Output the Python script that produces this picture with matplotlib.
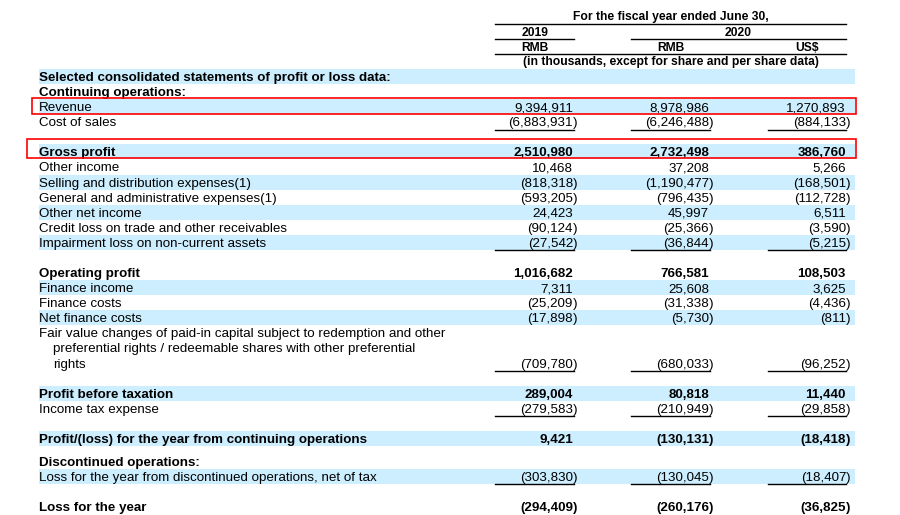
from matplotlib import pyplot as plt
from matplotlib.patches import Rectangle

plt.rcParams['font.family'] = ['Liberation Sans', 'DejaVu Sans']

# rows of the table (None = no value in that column)
row_labels = [
    "Selected consolidated statements of profit or loss data:",
    "Continuing operations:",
    "Revenue",
    "Cost of sales",
    "Gross profit",
    "Other income",
    "Selling and distribution expenses(1)",
    "General and administrative expenses(1)",
    "Other net income",
    "Credit loss on trade and other receivables",
    "Impairment loss on non-current assets",
    "Operating profit",
    "Finance income",
    "Finance costs",
    "Net finance costs",
    "Fair value changes of paid-in capital subject to redemption and other\n"
    "preferential rights / redeemable shares with other preferential\n"
    "rights",
    "Profit before taxation",
    "Income tax expense",
    "Profit/(loss) for the year from continuing operations",
    "Discontinued operations:",
    "Loss for the year from discontinued operations, net of tax",
    "Loss for the year",
]
rmb_2019 = [None, None, 9394911, -6883931, 2510980, 10468, -818318, -593205,
            24423, -90124, -27542, 1016682, 7311, -25209, -17898, -709780,
            289004, -279583, 9421, None, -303830, -294409]
rmb_2020 = [None, None, 8978986, -6246488, 2732498, 37208, -1190477, -796435,
            45997, -25366, -36844, 766581, 25608, -31338, -5730, -680033,
            80818, -210949, -130131, None, -130045, -260176]
usd_2020 = [None, None, 1270893, -884133, 386760, 5266, -168501, -112728,
            6511, -3590, -5215, 108503, 3625, -4436, -811, -96252,
            11440, -29858, -18418, None, -18407, -36825]

header_title = "For the fiscal year ended June 30,"
years = ["2019", "2020"]
currencies = ["RMB", "RMB", "US$"]
unit_note = "(in thousands, except for share and per share data)"

# layout / styles
slots = [0, 1, 2, 3, 5, 6, 7, 8, 9, 10, 11, 13, 14, 15, 16, 17, 21, 22, 24, 25.5, 26.5, 28.5]
bold_rows = {0, 1, 4, 11, 16, 18, 19, 21}
bold_values = {4, 11, 16, 18, 21}
underline_rows = {3, 10, 15, 17, 20}
boxed_rows = {2: (32, 98, 114), 4: (27, 139, 158)}
shade = '#cceeff'
step = 15.08
top = 76
fs = 9.6
hfs = 8.7

col_right = [573, 709, 846]
col_span = [(495, 574), (631, 710), (768, 846)]


def fmt(v):
    if v < 0:
        return "(" + format(-v, ",")
    return format(v, ",")


fig = plt.figure(figsize=(9, 5.15), dpi=100)
ax = fig.add_axes([0, 0, 1, 1])
ax.set_xlim(0, 900)
ax.set_ylim(515, 0)
ax.axis('off')

# header
ax.text(671, 20, header_title, ha='center', va='baseline', fontsize=hfs, fontweight='bold')
ax.plot([495, 846], [24, 24], color='black', lw=1)
ax.text(535, 36, years[0], ha='center', va='baseline', fontsize=hfs, fontweight='bold')
ax.text(738, 36, years[1], ha='center', va='baseline', fontsize=hfs, fontweight='bold')
ax.plot([495, 574], [39, 39], color='black', lw=1)
ax.plot([631, 846], [39, 39], color='black', lw=1)
for cx, cur in zip([535, 671, 807], currencies):
    ax.text(cx, 51, cur, ha='center', va='baseline', fontsize=hfs, fontweight='bold')
ax.plot([495, 846], [54, 54], color='black', lw=1)
ax.text(671, 65, unit_note, ha='center', va='baseline', fontsize=hfs, fontweight='bold')

for i, label in enumerate(row_labels):
    y = top + slots[i] * step
    lines = label.split("\n")
    weight = 'bold' if i in bold_rows else 'normal'
    if i % 2 == 0:
        ax.add_patch(Rectangle((39, y - 7), 816, 15, color=shade, lw=0, zorder=0))
    for k, line in enumerate(lines):
        ax.text(39 if k == 0 else 53, y + k * step + 5, line, ha='left', va='baseline',
                fontsize=fs, fontweight=weight)
    yv = y + (len(lines) - 1) * step
    vweight = 'bold' if i in bold_values else 'normal'
    for xr, col in zip(col_right, [rmb_2019, rmb_2020, usd_2020]):
        v = col[i]
        if v is None:
            continue
        ax.text(xr, yv + 5, fmt(v), ha='right', va='baseline', fontsize=fs, fontweight=vweight)
        if v < 0:
            ax.text(xr, yv + 5, ")", ha='left', va='baseline', fontsize=fs, fontweight=vweight)
    if i in underline_rows:
        for x0, x1 in col_span:
            ax.plot([x0, x1], [yv + 8.5, yv + 8.5], color='black', lw=1)
    if i in boxed_rows:
        x0, y0, y1 = boxed_rows[i]
        ax.add_patch(Rectangle((x0, y0), 856 - x0, y1 - y0, fill=False,
                               edgecolor='red', lw=1.2, zorder=3))

fig.savefig("out.png", dpi=100)
